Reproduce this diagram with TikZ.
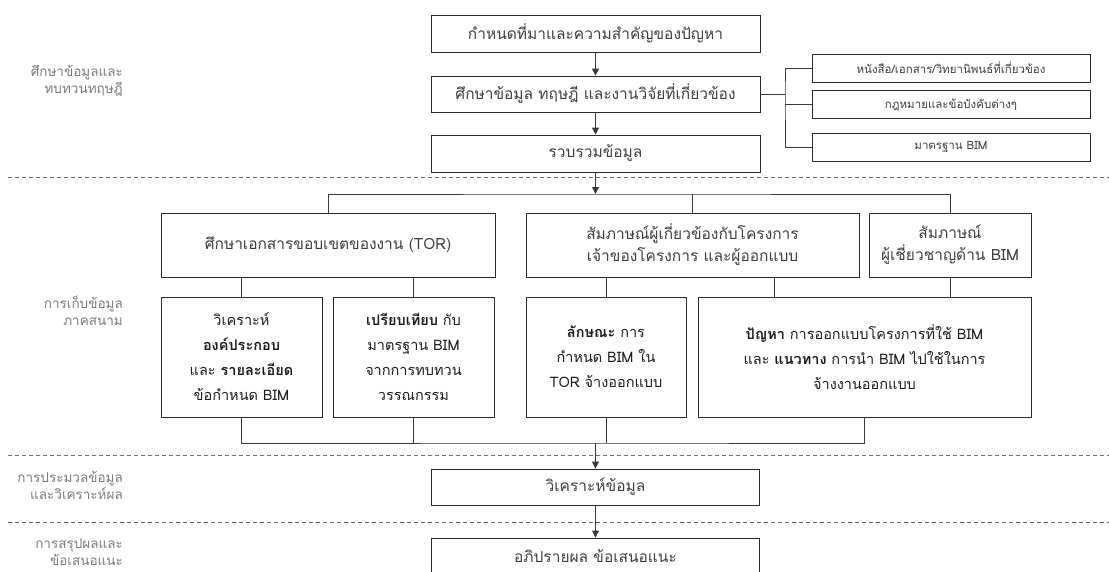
\documentclass[tikz,border=0pt]{standalone}
\usepackage{fontspec}
\setmainfont[Script=Thai]{Loma}
\usetikzlibrary{arrows.meta}
\definecolor{boxline}{HTML}{2B2B2B}
\definecolor{boxtext}{HTML}{3F3F3F}
\definecolor{darktext}{HTML}{1E1E1E}
\definecolor{labeltext}{HTML}{7A7A7A}
\definecolor{sepline}{HTML}{6E6E6E}
\definecolor{busline}{HTML}{3A3A3A}
\tikzset{
  stepbox/.style={draw=boxline, line width=0.9pt, fill=white, align=center,
    inner sep=0pt, text=boxtext, font=\fontsize{15.5}{22}\selectfont},
  refbox/.style={stepbox, font=\fontsize{11.5}{14}\selectfont},
  taskbox/.style={stepbox, text=darktext, font=\fontsize{14.5}{25}\selectfont},
  phase/.style={align=right, anchor=east, text=labeltext, inner sep=0pt,
    font=\fontsize{13.5}{17}\selectfont},
  sep/.style={draw=sepline, dashed, dash pattern=on 4pt off 3pt, line width=0.7pt},
  link/.style={draw=busline, line width=0.9pt},
  flow/.style={link, -{Triangle[length=7pt,width=7pt]}}
}
\begin{document}
\begin{tikzpicture}[x=1pt,y=-1pt]
\useasboundingbox (0,0) rectangle (1109,571);
\clip (0,0) rectangle (1109,571);

% phase separators
\draw[sep] (8,177) -- (1109,177);
\draw[sep] (8,455) -- (1109,455);
\draw[sep] (8,522) -- (1109,522);

% phase labels
\node[phase] (p1) at (123,81)  {ศึกษาข้อมูลและ\\ทบทวนทฤษฎี};
\node[phase] (p2) at (123,311) {การเก็บข้อมูล\\ภาคสนาม};
\node[phase] (p3) at (123,485) {การประมวลข้อมูล\\และวิเคราะห์ผล};
\node[phase] (p4) at (123,552) {การสรุปผลและ\\ข้อเสนอแนะ};

% literature review stage
\node[stepbox, minimum width=329pt, minimum height=37pt] (b1) at (595.5,33.5) {กำหนดที่มาและความสำคัญของปัญหา};
\node[stepbox, minimum width=329pt, minimum height=36pt] (b2) at (595.5,94) {ศึกษาข้อมูล ทฤษฎี และงานวิจัยที่เกี่ยวข้อง};
\node[stepbox, minimum width=329pt, minimum height=37pt] (b3) at (595.5,153.5) {รวบรวมข้อมูล};

\node[refbox, minimum width=278pt, minimum height=28pt] (rA) at (951,68)    {หนังสือ/เอกสาร/วิทยานิพนธ์ที่เกี่ยวข้อง};
\node[refbox, minimum width=278pt, minimum height=28pt] (rB) at (951,104.5) {กฎหมายและข้อบังคับต่างๆ};
\node[refbox, minimum width=278pt, minimum height=28pt] (rC) at (951,147)   {มาตรฐาน BIM};

\draw[flow] (b1.south) -- (b2.north);
\draw[flow] (b2.south) -- (b3.north);
\coordinate (rj) at (785,94);
\draw[link] (b2.east) -- (rj);
\draw[link] (rA.west) -| (rj) |- (rC.west);
\draw[link] (rj |- rB.west) -- (rB.west);

% field data stage
\node[stepbox, minimum width=334pt, minimum height=64pt] (tor)  at (328,245)   {ศึกษาเอกสารขอบเขตของงาน (TOR)};
\node[stepbox, minimum width=333pt, minimum height=64pt] (intv) at (692.5,245) {สัมภาษณ์ผู้เกี่ยวข้องกับโครงการ\\เจ้าของโครงการ และผู้ออกแบบ};
\node[stepbox, minimum width=162pt, minimum height=64pt] (expt) at (950,245)   {สัมภาษณ์\\ผู้เชี่ยวชาญด้าน BIM};

\coordinate (busT) at (595.5,194);
\draw[flow] (b3.south) -- (busT);
\draw[link] (tor.north) |- (busT) -| (expt.north);
\draw[link] (intv.north) -- (intv.north |- busT);

\node[taskbox, minimum width=161pt, minimum height=120pt] (c1) at (241.5,357)
  {วิเคราะห์\\\textbf{องค์ประกอบ}\\และ \textbf{รายละเอียด}\\ข้อกำหนด BIM};
\node[taskbox, minimum width=161pt, minimum height=120pt] (c2) at (413.5,357)
  {\textbf{เปรียบเทียบ} กับ\\มาตรฐาน BIM\\จากการทบทวน\\วรรณกรรม};
\node[taskbox, minimum width=160pt, minimum height=120pt] (c3) at (606,357)
  {\textbf{ลักษณะ} การ\\กำหนด BIM ใน\\TOR จ้างออกแบบ};
\node[taskbox, minimum width=333pt, minimum height=120pt] (c4) at (864.5,357)
  {\textbf{ปัญหา} การออกแบบโครงการที่ใช้ BIM\\และ \textbf{แนวทาง} การนำ BIM ไปใช้ในการ\\จ้างงานออกแบบ};

\draw[link] (c1.north) -- (c1.north |- tor.south);
\draw[link] (c2.north) -- (c2.north |- tor.south);
\draw[link] (c3.north) -- (c3.north |- intv.south);
\coordinate (c4a) at (774,297);
\draw[link] (c4a) -- (c4a |- intv.south);
\draw[link] (expt.south) -- (expt.south |- c4.north);

% analysis and conclusion stages
\node[stepbox, minimum width=328pt, minimum height=36pt] (d1) at (595.5,487) {วิเคราะห์ข้อมูล};
\node[stepbox, minimum width=328pt, minimum height=37pt] (d2) at (595.5,556.5) {อภิปรายผล ข้อเสนอแนะ};

\coordinate (busB) at (595.5,443);
\draw[link] (c1.south) |- (busB) -| (c4.south);
\draw[link] (c2.south) -- (c2.south |- busB);
\draw[link] (c3.south) -- (c3.south |- busB);
\draw[flow] (busB) -- (d1.north);
\draw[flow] (d1.south) -- (d2.north);
\end{tikzpicture}
\end{document}
